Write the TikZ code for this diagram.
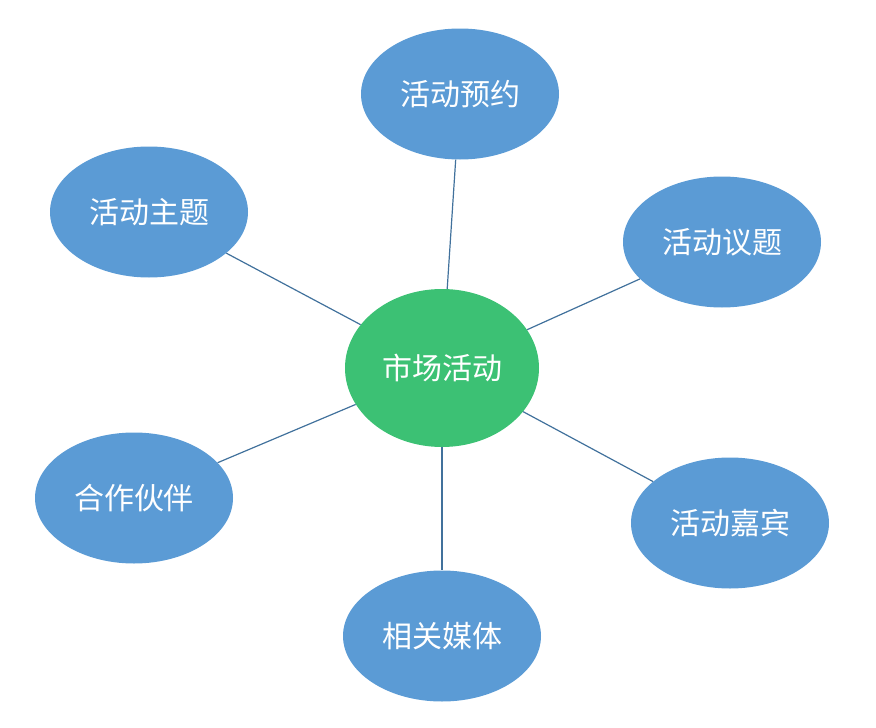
\documentclass[tikz,border=0pt]{standalone}
\usepackage{fontspec}
\newfontfamily\cjk{Noto Sans CJK SC}
\usetikzlibrary{shapes.geometric}
\definecolor{blueN}{HTML}{5B9BD5}
\definecolor{greenN}{HTML}{3CC174}
\definecolor{lineC}{HTML}{41719C}
\begin{document}
\begin{tikzpicture}[x=1pt,y=-1pt,
  el/.style={ellipse,fill=blueN,text=white,inner sep=0pt,font=\cjk\fontsize{30}{30}\selectfont,minimum width=198pt,minimum height=131pt},
  ctr/.style={el,fill=greenN,minimum width=194pt,minimum height=158pt},
  ln/.style={draw=lineC,line width=1.2pt}]
\useasboundingbox (0,0) rectangle (876,728);
\node[ctr] (c) at (442,368) {市场活动};
\node[el] (a) at (460,94) {活动预约};
\node[el] (b) at (149,212) {活动主题};
\node[el] (d) at (722,242) {活动议题};
\node[el] (e) at (134,498) {合作伙伴};
\node[el] (f) at (730,523) {活动嘉宾};
\node[el] (g) at (442,636) {相关媒体};
\foreach \n in {a,b,d,e,f,g} \draw[ln] (c) -- (\n);
\end{tikzpicture}
\end{document}
